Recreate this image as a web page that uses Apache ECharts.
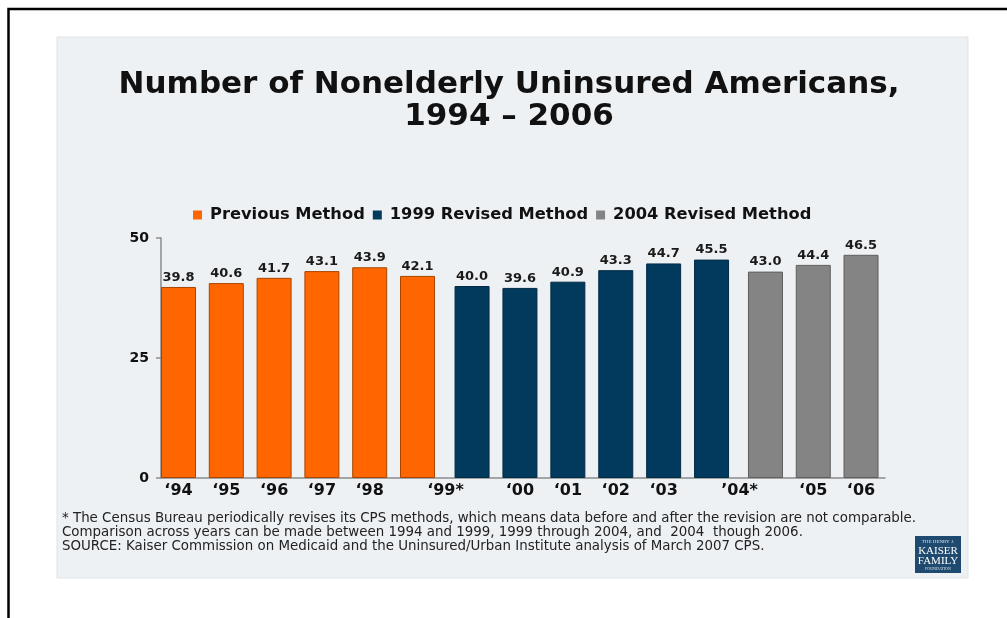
<!DOCTYPE html>
<html>
<head>
<meta charset="utf-8">
<script src="https://cdn.jsdelivr.net/npm/echarts@6/dist/echarts.min.js"></script>
<style>html,body{margin:0;padding:0;background:#fff;}#c{width:1007px;height:618px;}</style>
</head>
<body>
<div id="c"></div>
<script>
// ---- data ----
const categoriesPrev = ["1994", "1995", "1996", "1997", "1998", "1999 (previous)"];
const categories1999 = ["1999 (1999 revised)", "2000", "2001", "2002", "2003", "2004 (1999 revised)"];
const categories2004 = ["2004 (2004 revised)", "2005", "2006"];
const labelsPrev = ["\u201894", "\u201895", "\u201896", "\u201897", "\u201898", "\u201899*"];
const labels1999 = ["", "\u201800", "\u201801", "\u201802", "\u201803", "\u201904*"];
const labels2004 = ["", "\u201805", "\u201806"];
const previousMethod = [39.8, 40.6, 41.7, 43.1, 43.9, 42.1];
const revised1999 = [40.0, 39.6, 40.9, 43.3, 44.7, 45.5];
const revised2004 = [43.0, 44.4, 46.5];
const yTicks = [0, 25, 50];
const seriesNames = ["Previous Method", "1999 Revised Method", "2004 Revised Method"];
const footnote = [
  "* The Census Bureau periodically revises its CPS methods, which means data before and after the revision are not comparable.",
  "Comparison across years can be made between 1994 and 1999, 1999 through 2004, and  2004  though 2006.",
  "SOURCE: Kaiser Commission on Medicaid and the Uninsured/Urban Institute analysis of March 2007 CPS."
];

const FONT = "DejaVu Sans";
const chart = echarts.init(document.getElementById('c'));

const gridTop = 238, gridBottom = 140;
const grids = [
  { left: 161, width: 724, top: gridTop, bottom: gridBottom },      // background: y axis + baseline
  { left: 154.6, width: 286.8, top: gridTop, bottom: gridBottom },
  { left: 448.1, width: 287.4, top: gridTop, bottom: gridBottom },
  { left: 741.6, width: 143.3, top: gridTop, bottom: gridBottom }
];

function catAxis(gi, cats, labels, shiftIdx) {
  return {
    type: 'category', gridIndex: gi, data: cats.map((c, i) => {
      const o = { value: c };
      if (i === shiftIdx) o.textStyle = { padding: [0, 0, 0, 56] };
      return o;
    }),
    axisLine: { show: false }, axisTick: { show: false },
    axisLabel: {
      interval: 0, margin: 5,
      formatter: (v, i) => labels[i],
      fontFamily: FONT, fontWeight: 'bold', fontSize: 16, color: '#111'
    }
  };
}

function yAx(gi, show) {
  return {
    type: 'value', gridIndex: gi, min: 0, max: 50, interval: 25,
    show: show,
    splitLine: { show: false },
    axisLine: { show: true, lineStyle: { color: '#8a8a8a', width: 1.5 } },
    axisTick: { show: true, length: 5, lineStyle: { color: '#8a8a8a', width: 1.5 } },
    axisLabel: {
      margin: 12, fontFamily: FONT, fontWeight: 'bold', fontSize: 14, color: '#111',
      formatter: v => yTicks.indexOf(v) >= 0 ? String(v) : ''
    }
  };
}

const labelCfg = {
  show: true, position: 'top', distance: 3,
  fontFamily: FONT, fontWeight: 'bold', fontSize: 13, color: '#1a1a1a',
  formatter: p => p.value.toFixed(1)
};

const option = {
  animation: false,
  backgroundColor: '#ffffff',
  grid: grids,
  xAxis: [
    { type: 'value', gridIndex: 0, min: 0, max: 1, axisLabel: { show: false }, axisTick: { show: false },
      splitLine: { show: false }, axisLine: { show: true, onZero: false, lineStyle: { color: '#8a8a8a', width: 1.5 } } },
    catAxis(1, categoriesPrev, labelsPrev, 5),
    catAxis(2, categories1999, labels1999, 5),
    catAxis(3, categories2004, labels2004, -1)
  ],
  yAxis: [yAx(0, true), yAx(1, false), yAx(2, false), yAx(3, false)],
  legend: {
    data: seriesNames,
    left: 188, top: 202,
    icon: 'rect', itemWidth: 9, itemHeight: 9, itemGap: 8,
    itemStyle: { borderWidth: 0 },
    textStyle: { fontFamily: FONT, fontWeight: 'bold', fontSize: 16.3, color: '#111', padding: [0, 0, 0, 3] }
  },
  series: [
    { name: seriesNames[0], type: 'bar', xAxisIndex: 1, yAxisIndex: 1, data: previousMethod, barWidth: 35,
      itemStyle: { color: '#ff6600', borderColor: '#a84400', borderWidth: 1 }, label: labelCfg },
    { name: seriesNames[1], type: 'bar', xAxisIndex: 2, yAxisIndex: 2, data: revised1999, barWidth: 35,
      itemStyle: { color: '#023a5e', borderColor: '#012a45', borderWidth: 1 }, label: labelCfg },
    { name: seriesNames[2], type: 'bar', xAxisIndex: 3, yAxisIndex: 3, data: revised2004, barWidth: 35,
      itemStyle: { color: '#848484', borderColor: '#5e5e5e', borderWidth: 1 }, label: labelCfg }
  ],
  graphic: [
    { type: 'rect', z: -10, shape: { x: 8.5, y: 9, width: 1010, height: 620 },
      style: { fill: '#ffffff', stroke: '#000000', lineWidth: 2.5 } },
    { type: 'rect', z: -9, shape: { x: 57, y: 37, width: 911, height: 541 },
      style: { fill: '#eef1f4', stroke: '#e0e3e6', lineWidth: 1 } },
    { type: 'text', x: 509, y: 85, style: { text: 'Number of Nonelderly Uninsured Americans,', fontFamily: FONT,
      fontWeight: 'bold', fontSize: 31, fill: '#111', align: 'center', verticalAlign: 'middle' } },
    { type: 'text', x: 509, y: 117, style: { text: '1994 \u2013 2006', fontFamily: FONT,
      fontWeight: 'bold', fontSize: 31, fill: '#111', align: 'center', verticalAlign: 'middle' } },
    { type: 'text', x: 62, y: 512, style: { text: footnote.join('\n'), fontFamily: FONT, fontSize: 13.4,
      lineHeight: 14, fill: '#222' } },
    { type: 'rect', shape: { x: 915, y: 536, width: 46, height: 37 }, style: { fill: '#1f4a70' } },
    { type: 'text', x: 938, y: 542, style: { text: 'THE HENRY J.', fontFamily: 'Liberation Serif', fontSize: 5,
      fill: '#d8e2ec', align: 'center', verticalAlign: 'middle' } },
    { type: 'text', x: 938, y: 551, style: { text: 'KAISER', fontFamily: 'Liberation Serif', fontSize: 11,
      fill: '#ffffff', align: 'center', verticalAlign: 'middle' } },
    { type: 'text', x: 938, y: 561, style: { text: 'FAMILY', fontFamily: 'Liberation Serif', fontSize: 11,
      fill: '#ffffff', align: 'center', verticalAlign: 'middle' } },
    { type: 'text', x: 938, y: 569, style: { text: 'FOUNDATION', fontFamily: 'Liberation Serif', fontSize: 4,
      fill: '#d8e2ec', align: 'center', verticalAlign: 'middle' } }
  ]
};
chart.setOption(option);
</script>
</body>
</html>
